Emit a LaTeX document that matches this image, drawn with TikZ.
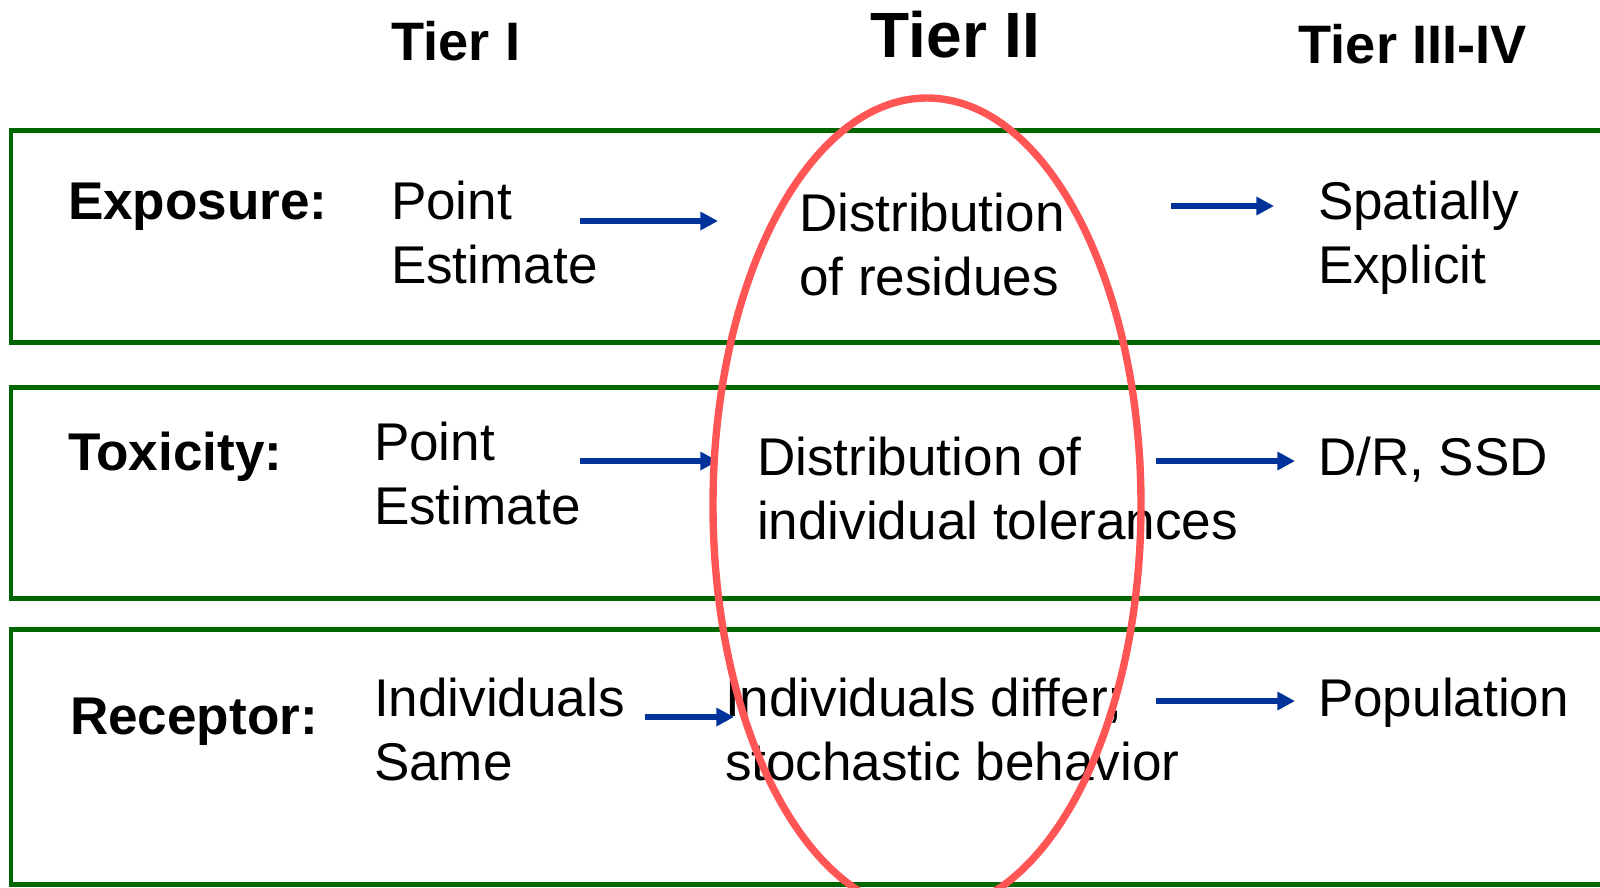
\documentclass[tikz,border=0pt]{standalone}
\usepackage{fontspec}
\setmainfont{Liberation Sans}
\usetikzlibrary{arrows.meta}
\definecolor{rowgreen}{HTML}{006600}
\definecolor{flowblue}{HTML}{003399}
\definecolor{ovalred}{HTML}{FF5555}
\begin{document}
\begin{tikzpicture}[x=0.01cm,y=-0.01cm]
\tikzstyle{rowbox} = [draw=rowgreen, line width=1.42pt]
\tikzstyle{txt} = [anchor=north west, inner sep=0, outer sep=0, align=left, font=\fontsize{15.1pt}{18.1pt}\selectfont]
\tikzstyle{head} = [txt, font=\fontsize{15.1pt}{18.1pt}\selectfont\bfseries]
\tikzstyle{tier} = [anchor=north west, inner sep=0, font=\fontsize{15.4pt}{18pt}\selectfont\bfseries]
\tikzstyle{flow} = [-{Triangle[length=5pt,width=5pt]}, draw=flowblue, line width=1.65pt]
\tikzstyle{oval} = [draw=ovalred, line width=2.1pt]

\useasboundingbox (0,0) rectangle (1600,887);

% rows
\draw [rowbox] (11,130) rectangle (1630,342);
\draw [rowbox] (11,387) rectangle (1630,598);
\draw [rowbox] (11,629) rectangle (1630,884);

% tiers
\node [tier] (t1) at (391,21) {Tier I};
\node [tier, font=\fontsize{18.2pt}{20pt}\selectfont\bfseries] (t2) at (870,10) {Tier II};
\node [tier] (t3) at (1298,24) {Tier III-IV};

\node [head] (exp) at (68,183) {Exposure:};
\node [txt] (exp1) at (391,181) {Point\\Estimate};
\node [txt] (exp2) at (799,193) {Distribution\\of residues};
\node [txt] (exp3) at (1318,181) {Spatially\\Explicit};

\node [head] (tox) at (68,432) {Toxicity:};
\node [txt] (tox1) at (374,422) {Point\\Estimate};
\node [txt] (tox2) at (757,437) {Distribution of\\individual tolerances};
\node [txt] (tox3) at (1318,437) {D/R, SSD};

\node [head] (rec) at (70,698) {Receptor:};
\node [txt] (rec1) at (374,678) {Individuals\\Same};
\node [txt] (rec2) at (725,678) {Individuals differ;\\stochastic behavior};
\node [txt] (rec3) at (1318,678) {Population};

% arrow ends
\coordinate (a1) at (580,221);  \coordinate (b1) at (718,221);
\coordinate (c1) at (1171,206); \coordinate (d1) at (1274,206);
\coordinate (a2) at (580,461);  \coordinate (b2) at (718,461);
\coordinate (c2) at (1156,461); \coordinate (d2) at (1295,461);
\coordinate (a3) at (645,717);  \coordinate (b3) at (734,717);
\coordinate (c3) at (1156,701); \coordinate (d3) at (1295,701);
\foreach \r in {1,2,3}
{
	\draw [flow] (a\r) -- (b\r);
	\draw [flow] (c\r) -- (d\r);
}

\draw [oval] (927,505) ellipse [x radius=214, y radius=407];
\end{tikzpicture}
\end{document}
